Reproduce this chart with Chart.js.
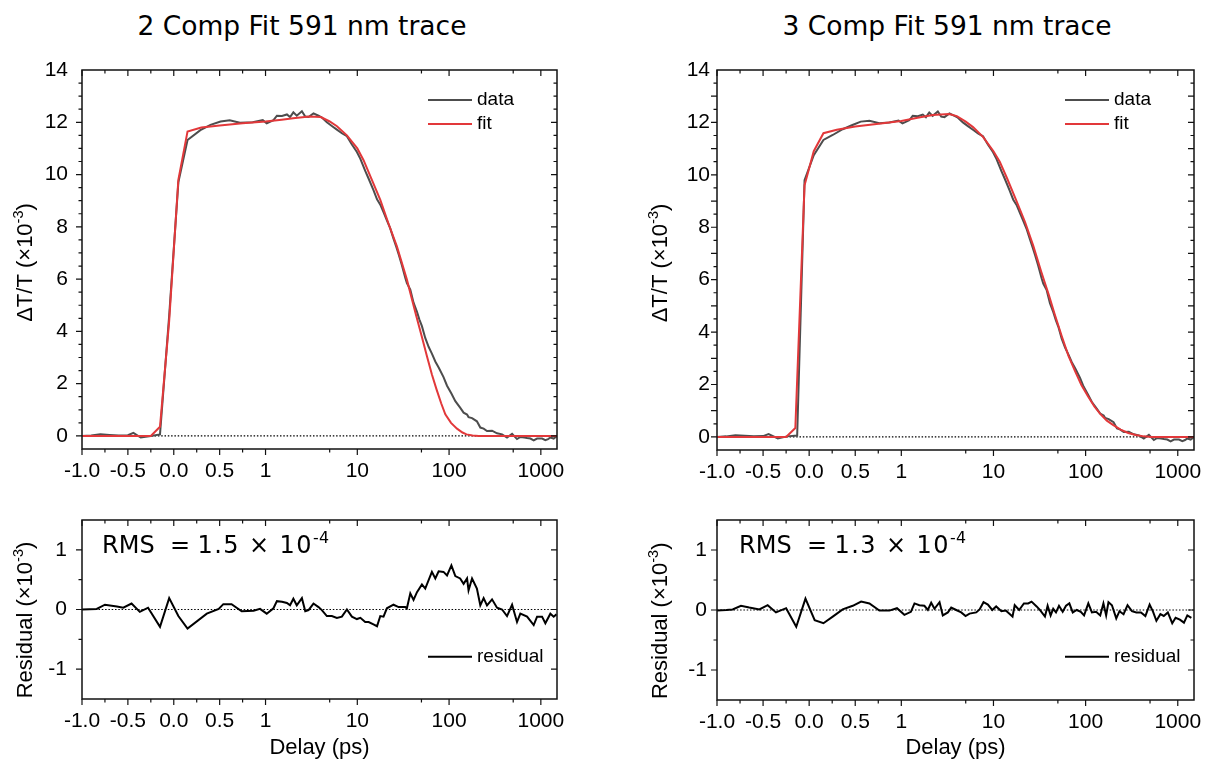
<!DOCTYPE html>
<html><head><meta charset="utf-8">
<script src="https://cdn.jsdelivr.net/npm/chart.js@4.4.1/dist/chart.umd.min.js"></script>
<style>
html,body{margin:0;padding:0;background:#fff;}
body{width:1205px;height:759px;position:relative;overflow:hidden;}
canvas{position:absolute;}
.ptitle{position:absolute;font-family:"DejaVu Sans",Verdana,sans-serif;font-size:26.5px;line-height:26px;color:#000;white-space:nowrap;transform:translateX(-50%);}
</style></head><body>
<div class="ptitle" style="left:302px;top:13px">2 Comp Fit 591 nm trace</div>
<div class="ptitle" style="left:947px;top:13px">3 Comp Fit 591 nm trace</div>
<canvas id="c1" width="600" height="445" style="left:0;top:50px"></canvas>
<canvas id="c2" width="600" height="259" style="left:0;top:500px"></canvas>
<canvas id="c3" width="575" height="445" style="left:630px;top:50px"></canvas>
<canvas id="c4" width="575" height="259" style="left:630px;top:500px"></canvas>
<script>
// ---------- axis ticks ----------
const xTickValues = [-1, -0.5, 0, 0.5, 1, 10, 100, 1000];
const xTickLabels = ['-1.0', '-0.5', '0.0', '0.5', '1', '10', '100', '1000'];
const xMinorTicks = [-0.75, -0.25, 0.25, 0.75, 5, 50, 500];
const yTicksTop2 = [0, 2, 4, 6, 8, 10, 12, 14];
const yTicksTop3 = [0, 1, 2, 3, 4, 5, 6, 7, 8, 9, 10, 11, 12, 13, 14];
const yTicksRes = [-1, 0, 1];

// ---------- data (delay in ps, value in 1e-3) ----------
const dataEarly2 = [[-1.0,0.0],[-0.9,0.02],[-0.8,0.06],[-0.7,0.04],[-0.6,0.02],[-0.5,0.03],[-0.44,0.12],[-0.36,-0.06],[-0.25,0.0],[-0.15,0.06],[-0.05,4.6],[0.05,9.7],[0.15,11.32],[0.29,11.7],[0.4,11.9],[0.51,12.03],[0.61,12.08],[0.72,11.98],[0.86,12.0],[0.97,12.08]];
const dataEarly3 = [[-1.0,0.0],[-0.9,0.02],[-0.8,0.06],[-0.7,0.04],[-0.6,0.02],[-0.5,0.03],[-0.44,0.11],[-0.34,-0.06],[-0.24,0.02],[-0.13,0.05],[-0.05,9.8],[0.05,10.75],[0.155,11.33],[0.256,11.52],[0.364,11.74],[0.47,11.9],[0.56,12.03],[0.654,12.06],[0.762,11.97],[0.87,12.0],[0.97,12.07]];
const dataLate = [[1.03,11.96],[1.22,12.08],[1.33,12.25],[1.51,12.24],[1.71,12.3],[1.85,12.2],[2.01,12.38],[2.19,12.25],[2.49,12.42],[2.71,12.22],[2.94,12.2],[3.33,12.34],[3.78,12.25],[4.11,12.18],[4.66,12.0],[5.28,11.86],[5.99,11.72],[6.79,11.58],[7.7,11.47],[8.73,11.15],[9.9,10.86],[10.8,10.6],[12.2,10.14],[13.3,9.84],[15.0,9.4],[16.4,9.05],[17.8,8.85],[19.3,8.56],[21.0,8.25],[22.8,7.95],[24.8,7.55],[26.5,7.25],[28.2,6.95],[30.5,6.55],[33.3,6.05],[34.7,5.85],[37.8,5.6],[41.0,5.1],[44.7,4.75],[47.5,4.45],[50.6,4.2],[55.0,3.75],[60.0,3.4],[65.0,3.15],[70.8,2.85],[77.0,2.62],[87.0,2.25],[95.0,1.92],[106,1.62],[117,1.33],[132,1.08],[144,0.89],[157,0.82],[163,0.72],[178,0.68],[201,0.56],[219,0.32],[238,0.28],[259,0.19],[294,0.2],[333,0.1],[378,0.06],[428,-0.06],[486,0.08],[550,-0.12],[598,-0.04],[660,-0.06],[708,-0.08],[770,-0.1],[836,-0.17],[910,-0.1],[1031,-0.1],[1120,-0.16],[1200,-0.12],[1270,-0.06],[1380,-0.1],[1480,-0.02]];
const fit2Curve = [[-1,0],[-0.25,0],[-0.15,0.35],[-0.05,4.4],[0.05,9.8],[0.15,11.65],[0.3,11.8],[0.5,11.88],[0.75,11.96],[1.0,12.03],[1.5,12.1],[2.0,12.15],[3.0,12.22],[4.0,12.2],[5.0,12.03],[6.0,11.85],[7.7,11.5],[10,11.0],[11.7,10.55],[14,9.9],[17.8,9.03],[22,8.1],[27,7.25],[34.7,5.98],[44,4.58],[50,3.85],[57.4,3.05],[65,2.35],[73,1.78],[82,1.25],[91,0.83],[105,0.5],[122,0.28],[140,0.13],[155,0.06],[180,0.02],[210,0],[1500,0]];
const fit3Curve = [[-1,0],[-0.25,0],[-0.15,0.34],[-0.05,9.6],[0.05,10.9],[0.155,11.59],[0.3,11.72],[0.5,11.84],[0.8,11.97],[1.0,12.05],[1.5,12.18],[2.2,12.28],[3.3,12.32],[4.0,12.24],[5.0,12.03],[6.0,11.82],[7.7,11.45],[10,10.9],[11.7,10.5],[14,9.88],[17.8,9.0],[22,8.2],[27,7.3],[33,6.3],[40,5.4],[46,4.7],[55,3.85],[65,3.1],[77,2.5],[90,1.98],[106,1.55],[125,1.15],[144,0.88],[170,0.62],[200,0.45],[240,0.28],[290,0.15],[350,0.07],[430,0.02],[520,0],[1500,0]];
const resid2 = [[-1.0,0],[-0.84,0.01],[-0.75,0.08],[-0.62,0.05],[-0.55,0.03],[-0.46,0.1],[-0.37,-0.04],[-0.28,0.03],[-0.15,-0.29],[-0.05,0.19],[0.05,-0.11],[0.15,-0.32],[0.36,-0.07],[0.49,0.01],[0.54,0.09],[0.63,0.09],[0.74,-0.03],[0.87,-0.02],[0.94,0.01],[1.03,-0.07],[1.22,0.02],[1.33,0.14],[1.51,0.13],[1.71,0.11],[1.85,0.07],[2.01,0.18],[2.19,0.07],[2.49,0.19],[2.71,-0.03],[2.94,-0.01],[3.33,0.1],[3.78,0.04],[4.11,-0.01],[4.66,-0.11],[5.28,-0.11],[5.99,-0.14],[6.79,-0.12],[7.7,0.0],[8.73,-0.12],[9.9,-0.16],[10.8,-0.14],[12.2,-0.21],[13.3,-0.21],[15.0,-0.25],[16.4,-0.28],[17.8,-0.11],[19.3,-0.12],[21.0,0.02],[24.8,0.08],[28.2,0.04],[33.3,0.04],[34.7,0.02],[37.8,0.27],[41,0.16],[44.7,0.29],[50.6,0.42],[55,0.35],[65,0.63],[70.8,0.52],[77,0.64],[87,0.63],[95,0.57],[106,0.74],[117,0.56],[132,0.52],[144,0.43],[157,0.52],[163,0.32],[178,0.52],[201,0.35],[219,0.07],[238,0.19],[259,0.07],[294,0.17],[333,0.03],[378,0.0],[428,-0.11],[486,0.08],[550,-0.21],[598,-0.07],[708,-0.12],[836,-0.26],[910,-0.12],[1031,-0.12],[1120,-0.23],[1270,-0.07],[1380,-0.12],[1480,-0.08]];
const resid3 = [[-1.0,-0.01],[-0.9,0],[-0.83,0.01],[-0.74,0.07],[-0.65,0.04],[-0.54,0.01],[-0.45,0.08],[-0.36,-0.04],[-0.25,0.03],[-0.14,-0.28],[-0.04,0.19],[0.06,-0.17],[0.155,-0.22],[0.256,-0.11],[0.364,0.01],[0.473,0.07],[0.564,0.14],[0.654,0.11],[0.762,-0.01],[0.87,-0.01],[0.953,0.03],[1.08,-0.08],[1.27,-0.03],[1.39,0.11],[1.57,0.08],[1.78,0.07],[1.94,0.0],[2.11,0.12],[2.29,0.02],[2.6,0.13],[2.82,-0.09],[3.2,-0.04],[3.48,0.04],[3.94,0.0],[4.47,-0.04],[4.98,-0.1],[5.5,-0.06],[6.5,-0.04],[7.07,0.01],[7.8,0.13],[8.7,0.09],[9.7,0.0],[10.7,0.06],[12.2,-0.02],[13.6,-0.01],[14.8,-0.06],[16.1,-0.11],[17,0.08],[19,0.0],[21.4,0.11],[23.8,0.11],[25.9,0.14],[29.4,0.06],[31.9,0.0],[36.2,-0.11],[38.7,0.07],[41.7,-0.09],[44.5,0.02],[47.7,-0.04],[51.4,0.07],[56.4,-0.03],[61.3,0.07],[66.6,0.11],[72.5,-0.04],[80.1,0.0],[88.6,-0.03],[96.2,-0.09],[107,0.11],[117,-0.04],[130,-0.03],[144,-0.09],[156,0.11],[167,-0.09],[177,0.13],[193,0.08],[215,-0.14],[233,-0.02],[258,-0.07],[285,0.08],[318,-0.02],[355,-0.04],[399,-0.04],[445,-0.1],[495,0.09],[540,-0.03],[586,-0.18],[648,-0.07],[705,-0.1],[780,-0.04],[871,-0.22],[947,-0.13],[1054,-0.16],[1167,-0.21],[1270,-0.09],[1404,-0.13]];
const zeroLine = [[-1, 0], [1500, 0]];

// ---------- custom x scale: linear below 1 ps, log10 above ----------
const T = v => v <= 1 ? v : 1 + Math.log10(v);
const Tinv = t => t <= 1 ? t : Math.pow(10, t - 1);
class MixLogScale extends Chart.LinearScale {
  buildTicks() { return xTickValues.map(v => ({ value: v })); }
  getPixelForValue(v) {
    const a = T(this.min), b = T(this.max);
    return this.getPixelForDecimal((T(v) - a) / (b - a));
  }
  getValueForPixel(p) {
    const a = T(this.min), b = T(this.max);
    return Tinv(a + this.getDecimalForPixel(p) * (b - a));
  }
}
MixLogScale.id = 'mixlog';
MixLogScale.defaults = Chart.LinearScale.defaults;
Chart.register(MixLogScale);

const SANS = '"Liberation Sans", Arial, sans-serif';
const VERD = '"DejaVu Sans", Verdana, sans-serif';

function drawRich(ctx, parts, x, y, rot, size, family, center) {
  ctx.save();
  ctx.translate(x, y);
  ctx.rotate(rot);
  ctx.textBaseline = 'alphabetic';
  ctx.textAlign = 'left';
  ctx.fillStyle = '#000';
  const sz = p => p.sup ? size * 0.66 : size;
  const setp = p => { ctx.font = sz(p) + 'px ' + family; if ('letterSpacing' in ctx) ctx.letterSpacing = (p.ls || 0) + 'px'; };
  let w = 0;
  parts.forEach(p => { setp(p); w += ctx.measureText(p.t).width; });
  let cx = center ? -w / 2 : 0;
  parts.forEach(p => {
    setp(p);
    ctx.fillText(p.t, cx, p.sup ? -size * 0.4 : 0);
    cx += ctx.measureText(p.t).width;
  });
  ctx.restore();
}

const decor = {
  id: 'decor',
  afterDatasetsDraw(chart, args, o) {
    const { ctx, chartArea: a } = chart;
    const xs = chart.scales.x, ys = chart.scales.y;
    ctx.save();
    ctx.strokeStyle = '#111';
    ctx.lineWidth = 1.2;
    ctx.beginPath();
    const vx = (v, len) => { const p = xs.getPixelForValue(v); ctx.moveTo(p, a.bottom); ctx.lineTo(p, a.bottom + len); ctx.moveTo(p, a.top); ctx.lineTo(p, a.top + len); };
    const hy = (v, len) => { const p = ys.getPixelForValue(v); ctx.moveTo(a.left - len, p); ctx.lineTo(a.left, p); ctx.moveTo(a.right, p); ctx.lineTo(a.right - len, p); };
    xTickValues.forEach(v => vx(v, 6));
    xMinorTicks.forEach(v => vx(v, 3.5));
    const ymaj = o.yMajor;
    for (let v = ys.min; v <= ys.max + 1e-9; v += 0.5) {
      if (v <= ys.min + 1e-9 || v >= ys.max - 1e-9) continue;
      if (ymaj.some(m => Math.abs(m - v) < 1e-9)) hy(v, 6); else hy(v, 3.5);
    }
    ctx.stroke();
    ctx.lineWidth = 1.5;
    ctx.strokeRect(a.left, a.top, a.right - a.left, a.bottom - a.top);
    // legend
    ctx.font = '19px ' + SANS;
    ctx.textBaseline = 'middle';
    ctx.textAlign = 'left';
    ctx.fillStyle = '#000';
    let ly = a.top + o.legendTop;
    chart.data.datasets.filter(d => d.label).forEach(d => {
      ctx.strokeStyle = d.borderColor;
      ctx.lineWidth = 2;
      ctx.beginPath();
      ctx.moveTo(a.right - 129, ly);
      ctx.lineTo(a.right - 85, ly);
      ctx.stroke();
      ctx.fillText(d.label, a.right - 80, ly);
      ly += 24;
    });
    ctx.restore();
  },
  afterDraw(chart, args, o) {
    const { ctx, chartArea: a } = chart;
    drawRich(ctx, o.yTitle, o.yTitleX, (a.top + a.bottom) / 2 + o.yTitleDy, -Math.PI / 2, 22, SANS, true);
    if (o.rms) {
      drawRich(ctx, [{ t: 'RMS  = ' }, { t: o.rms + ' \u00d7 10', ls: 1.4 }, { t: '-4', sup: true, ls: 0.5 }], a.left + o.rmsX, a.top + 33, 0, 24, VERD, false);
    }
  }
};

const toXY = pairs => pairs.map(([x, y]) => ({ x, y }));

function buildChart(id, o) {
  const datasets = [{
    data: toXY(zeroLine), borderColor: '#000', borderWidth: 1.2, borderDash: [1.5, 1.8],
    pointRadius: 0, order: 5
  }];
  o.series.forEach((s, i) => datasets.push({
    label: s.label, data: toXY(s.data), borderColor: s.color, borderWidth: 2,
    pointRadius: 0, tension: 0, fill: false, order: 3 - i
  }));
  return new Chart(document.getElementById(id), {
    type: 'line',
    data: { datasets },
    options: {
      responsive: false, animation: false, events: [],
      layout: { padding: { left: 0, top: 20, right: o.padRight, bottom: 0 } },
      plugins: {
        legend: { display: false }, title: { display: false }, tooltip: { enabled: false },
        decor: { yMajor: o.yTicks, legendTop: o.legendTop, yTitle: o.yTitle, yTitleX: o.yTitleX, yTitleDy: o.yTitleDy, rms: o.rms || null, rmsX: o.rmsX || 20 }
      },
      scales: {
        x: {
          type: 'mixlog', min: -1, max: 1500, position: 'bottom',
          grid: { display: false, drawTicks: false }, border: { display: false },
          ticks: {
            autoSkip: false, maxRotation: 0, minRotation: 0, padding: 10, color: '#000',
            font: { family: SANS, size: 21 },
            callback: (v, i) => xTickLabels[i]
          },
          title: { display: o.xTitle, text: 'Delay (ps)', color: '#000', font: { family: SANS, size: 22, lineHeight: 1.0 }, padding: { top: 0, bottom: 0 } },
          afterFit: s => { s.height = o.xHeight; s.paddingLeft = 0; s.paddingRight = 0; }
        },
        y: {
          type: 'linear', min: o.yMin, max: o.yMax, position: 'left',
          grid: { display: false, drawTicks: false }, border: { display: false },
          afterBuildTicks: s => { s.ticks = o.yTicks.map(v => ({ value: v })); },
          ticks: { padding: o.yPad, color: '#000', font: { family: SANS, size: 21 }, callback: v => String(v) },
          afterFit: s => { s.width = o.yWidth; s.paddingTop = 0; s.paddingBottom = 0; }
        }
      }
    },
    plugins: [decor]
  });
}

const GRAY = '#4d4d4d', RED = '#e2383a';
const yTitleTop = [{ t: '\u0394T/T (\u00d710' }, { t: '-3', sup: true }, { t: ')' }];
const yTitleRes = [{ t: 'Residual (\u00d710' }, { t: '-3', sup: true }, { t: ')' }];

buildChart('c1', {
  series: [{ label: 'data', data: dataEarly2.concat(dataLate), color: GRAY }, { label: 'fit', data: fit2Curve, color: RED }],
  padRight: 43, yWidth: 82, xHeight: 46, yMin: -0.5, yMax: 14, yTicks: yTicksTop2, yPad: 14,
  legendTop: 30, yTitle: yTitleTop, yTitleX: 31.5, yTitleDy: 3, xTitle: false
});
buildChart('c2', {
  series: [{ label: 'residual', data: resid2, color: '#000' }],
  padRight: 43, yWidth: 82, xHeight: 60, yMin: -1.5, yMax: 1.5, yTicks: yTicksRes, yPad: 15,
  legendTop: 136.7, yTitle: yTitleRes, yTitleX: 31.5, yTitleDy: 10.5, xTitle: true, rms: '1.5', rmsX: 20
});
buildChart('c3', {
  series: [{ label: 'data', data: dataEarly3.concat(dataLate), color: GRAY }, { label: 'fit', data: fit3Curve, color: RED }],
  padRight: 11, yWidth: 87, xHeight: 45, yMin: -0.5, yMax: 14, yTicks: yTicksTop3, yPad: 7,
  legendTop: 30, yTitle: yTitleTop, yTitleX: 36.5, yTitleDy: 3, xTitle: false
});
buildChart('c4', {
  series: [{ label: 'residual', data: resid3, color: '#000' }],
  padRight: 11, yWidth: 87, xHeight: 59, yMin: -1.5, yMax: 1.5, yTicks: yTicksRes, yPad: 10,
  legendTop: 136.7, yTitle: yTitleRes, yTitleX: 36.5, yTitleDy: 10.8, xTitle: true, rms: '1.3', rmsX: 22
});
</script>
</body></html>
